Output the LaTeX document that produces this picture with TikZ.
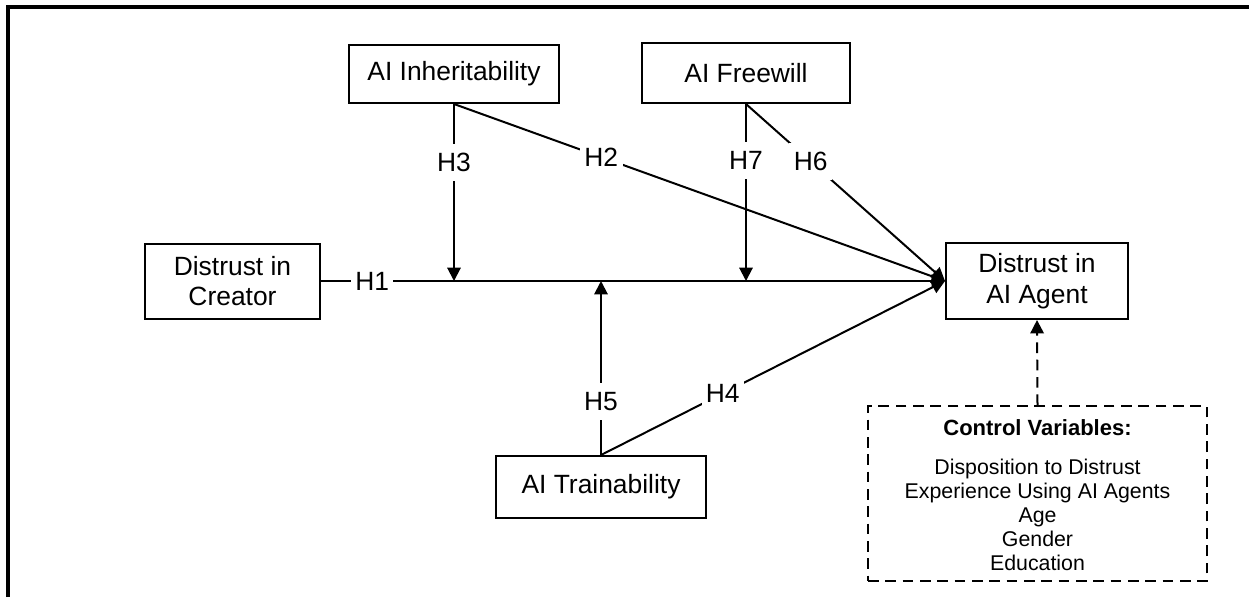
\documentclass[tikz,border=0pt]{standalone}
\usepackage{fontspec}
\setmainfont{Liberation Sans}
\usetikzlibrary{arrows.meta}
\begin{document}
\begin{tikzpicture}[x=0.75pt,y=-0.75pt,
 box/.style={draw,line width=1.5pt,align=center,font=\fontsize{19.8}{22.8}\selectfont,inner sep=0pt},
 lab/.style={fill=white,font=\fontsize{19.8}{22.8}\selectfont,inner xsep=3.3pt,inner ysep=7pt},
 conn/.style={line width=1.5pt},
 arr/.style={conn,-{Triangle[length=10pt,width=10pt]}},
 ctl/.style={font=\fontsize{16}{18}\selectfont,align=center,inner sep=0pt}]
\useasboundingbox (0,0) rectangle (1249,597);
\draw[line width=3pt] (8,597) -- (8,7) -- (1249,7);
% nodes
\node[box,minimum width=157.5pt,minimum height=43.5pt] (inh) at (454,74) {AI Inheritability};
\node[box,minimum width=156pt,minimum height=45pt] (fw) at (746,73) {AI Freewill};
\node[box,minimum width=131.25pt,minimum height=56.25pt] (cre) at (232.5,281) {Distrust in\\Creator};
\node[box,minimum width=136.5pt,minimum height=57pt] (agt) at (1037,281) {Distrust in\\AI Agent};
\node[box,minimum width=157.5pt,minimum height=46.5pt] (trn) at (601,487) {AI Trainability};
\node[draw,line width=1.5pt,dash pattern=on 8pt off 5pt,minimum width=254.25pt,minimum height=131.25pt,inner sep=0pt] (ctrl) at (1037.5,493.5) {};
\node[ctl,font=\fontsize{16.5}{18}\selectfont\bfseries] (ctitle) at (1037.5,428) {Control Variables:};
\node[ctl] (clist) at (1037.5,514.5) {Disposition to Distrust\\Experience Using AI Agents\\Age\\Gender\\Education};
% free ends on the main path
\coordinate (m3) at (454,281);
\coordinate (m7) at (746,281);
\coordinate (m5) at (601,281);
% connectors
\draw[arr] (cre.east) -- node[lab,pos=0.082]{H1} (agt.west);
\draw[arr] (inh.south) -- node[lab,pos=0.33]{H3} (m3);
\draw[arr] (inh.south) -- node[lab,pos=0.30]{H2} (agt.west);
\draw[arr] (fw.south) -- node[lab,pos=0.32]{H7} (m7);
\draw[arr] (fw.south) -- node[lab,pos=0.325]{H6} (agt.west);
\draw[arr] (trn.north) -- node[lab,pos=0.31]{H5} (m5);
\draw[arr] (trn.north) -- node[lab,pos=0.354]{H4} (agt.west);
\draw[arr,dash pattern=on 8pt off 5pt] (ctrl.north) -- (agt.south);
\end{tikzpicture}
\end{document}
